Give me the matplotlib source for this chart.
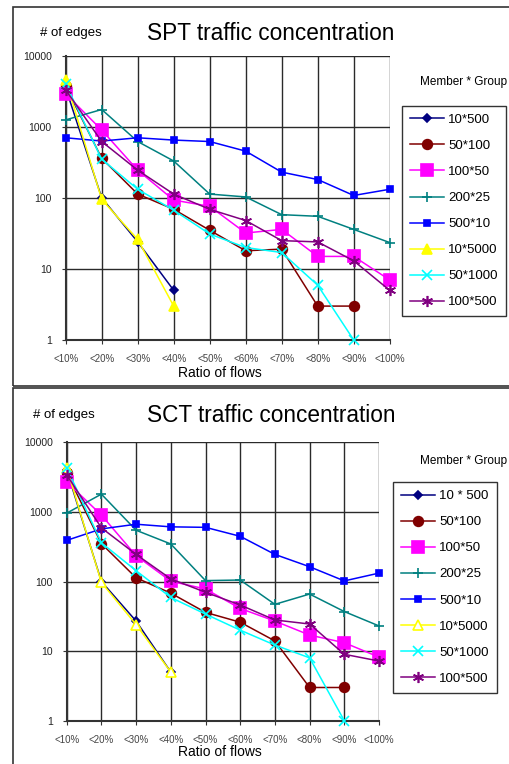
"""SPT / SCT traffic concentration - two log-scale line charts"""
import numpy as np
import matplotlib
matplotlib.use('Agg')
import matplotlib.pyplot as plt
from matplotlib.patches import Rectangle
from matplotlib.ticker import FixedLocator, FixedFormatter, NullLocator

plt.rcParams['font.family'] = ['Liberation Sans', 'DejaVu Sans']

nan = np.nan
ratios = ['<10%', '<20%', '<30%', '<40%', '<50%', '<60%', '<70%', '<80%', '<90%', '<100%']
yticks = [1, 10, 100, 1000, 10000]

spt_labels = ['10*500', '50*100', '100*50', '200*25', '500*10', '10*5000', '50*1000', '100*500']
spt_10x500 = [3500, 100, 24, 5, nan, nan, nan, nan, nan, nan]
spt_50x100 = [3700, 360, 113, 69, 35, 18, 19, 3, 3, nan]
spt_100x50 = [2900, 900, 245, 93, 76, 32, 36, 15, 15, 7]
spt_200x25 = [1250, 1750, 620, 330, 113, 103, 58, 55, 36, 23.5]
spt_500x10 = [700, 630, 700, 650, 620, 454, 230, 181, 108, 132]
spt_10x5000 = [4600, 95, 26, 3, nan, nan, nan, nan, nan, nan]
spt_50x1000 = [4000, 350, 132, 67, 31, 20, 17, 5.9, 1, nan]
spt_100x500 = [3300, 620, 245, 113, 69, 48, 25, 24, 13, 5]

sct_labels = ['10 * 500', '50*100', '100*50', '200*25', '500*10', '10*5000', '50*1000', '100*500']
sct_10x500 = [4000, 100, 27, 5, nan, nan, nan, nan, nan, nan]
sct_50x100 = [3600, 350, 113, 68, 36, 26, 14, 3, 3, nan]
sct_100x50 = [2700, 900, 235, 101, 78, 41, 27, 17, 13.2, 8.2]
sct_200x25 = [960, 1800, 545, 346, 103, 105, 47, 66, 37, 23]
sct_500x10 = [390, 570, 665, 610, 600, 446, 245, 163, 102, 132]
sct_10x5000 = [4300, 97, 24, 5, nan, nan, nan, nan, nan, nan]
sct_50x1000 = [4300, 360, 143, 59, 34, 20, 12.2, 8, 1, nan]
sct_100x500 = [3400, 590, 245, 109, 70, 46, 28, 24.5, 9, 7.2]

# color, marker, marker size for each series (Excel-ish defaults)
styles = [
    ('#000080', 'D', 4.5),
    ('#800000', 'o', 7),
    ('#FF00FF', 's', 8),
    ('#008080', '+', 7),
    ('#0000FF', 's', 4),
    ('#FFFF00', '^', 7),
    ('#00FFFF', 'x', 7),
    ('#800080', (6, 2, 0), 8),
]


def draw_chart(fig, rect, series, labels, title, title_y, edges_x, legend_rect,
               group_y, ratio_y, open_triangle=False):
    ax = fig.add_axes(rect)
    x = np.arange(len(ratios))
    for vals, lab, (col, mk, ms) in zip(series, labels, styles):
        face = col
        if open_triangle and mk == '^':
            face = 'white'
        ax.plot(x, vals, color=col, marker=mk, markersize=ms, markerfacecolor=face,
                markeredgecolor=col, markeredgewidth=1.2, linewidth=1.1,
                label=lab, clip_on=False, zorder=3)
    ax.set_yscale('log')
    ax.set_ylim(1, 10000)
    ax.set_xlim(0, 9)
    ax.yaxis.set_major_locator(FixedLocator(yticks))
    ax.yaxis.set_major_formatter(FixedFormatter([str(v) for v in yticks]))
    ax.yaxis.set_minor_locator(NullLocator())
    ax.set_xticks(x)
    ax.set_xticklabels(ratios, fontsize=7, color='#444444')
    ax.tick_params(axis='y', labelsize=7.5, length=3, color='#333333', pad=7,
                   labelcolor='#222222')
    ax.tick_params(axis='x', length=3, color='#333333', pad=7)
    ax.grid(True, color='#2a2a2a', linewidth=1)
    ax.set_axisbelow(True)
    for side in ['top', 'right']:
        ax.spines[side].set_visible(False)
    for side in ['left', 'bottom']:
        ax.spines[side].set_color('#333333')
        ax.spines[side].set_linewidth(1.5)

    fig.text(0.532, title_y, title, fontsize=16.3, ha='center', va='center')
    fig.text(edges_x, title_y, '# of edges', fontsize=9.5, ha='center', va='center')
    fig.text(0.91, group_y, 'Member * Group', fontsize=8.5, ha='center', va='center')
    fig.text(0.432, ratio_y, 'Ratio of flows', fontsize=10, ha='center', va='center')

    leg = ax.legend(loc='upper left', bbox_to_anchor=legend_rect,
                    bbox_transform=fig.transFigure, fontsize=9.5, handlelength=2.6,
                    labelspacing=1.05, frameon=True, fancybox=False, borderpad=0.6,
                    handletextpad=0.3, borderaxespad=0)
    leg.get_frame().set_edgecolor('black')
    leg.get_frame().set_linewidth(1)
    return ax


def plot_traffic():
    W, H = 509, 764
    fig = plt.figure(figsize=(W / 100, H / 100), dpi=100)

    # outer frames around each chart
    fig.patches.append(Rectangle((12.5 / W, 1 - 386 / H), 1, (386 - 6.7) / H,
                                 transform=fig.transFigure, fill=False,
                                 edgecolor='#333333', linewidth=1.2))
    fig.patches.append(Rectangle((13.3 / W, -0.1), 1, 0.1 + 1 - 388.3 / H,
                                 transform=fig.transFigure, fill=False,
                                 edgecolor='#333333', linewidth=1.2))

    spt = [spt_10x500, spt_50x100, spt_100x50, spt_200x25, spt_500x10,
           spt_10x5000, spt_50x1000, spt_100x500]
    sct = [sct_10x500, sct_50x100, sct_100x50, sct_200x25, sct_500x10,
           sct_10x5000, sct_50x1000, sct_100x500]

    draw_chart(fig, [65.7 / W, 1 - 340 / H, 324 / W, 284.3 / H], spt, spt_labels,
               'SPT traffic concentration', 1 - 33 / H, 71 / W,
               (402 / W, 1 - 105.7 / H), 1 - 82 / H, 1 - 373 / H)
    draw_chart(fig, [66.7 / W, 1 - 720.7 / H, 312.3 / W, 278.4 / H], sct, sct_labels,
               'SCT traffic concentration', 1 - 415 / H, 64 / W,
               (393 / W, 1 - 482 / H), 1 - 461 / H, 1 - 752 / H, open_triangle=True)

    fig.savefig('out.png', dpi=100)


if __name__ == '__main__':
    plot_traffic()
